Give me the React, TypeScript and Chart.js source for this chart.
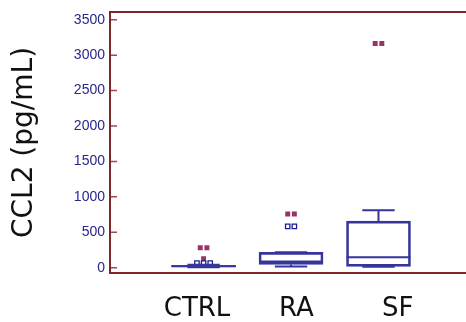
import React, { useEffect, useRef } from 'react';
import { Chart, registerables } from 'chart.js';

Chart.register(...registerables);

// ---- data ----
const categories = ['CTRL', 'RA', 'SF'];
const whiskerLow = [5, 18, 12];
const q1 = [12, 46, 18];
const median = [20, 88, 148];
const q3 = [32, 217, 657];
const whiskerHigh = [40, 217, 810];
const outliersNear = [[64, 64, 64], [583, 583], []];
const outliersFar = [[282, 282, 125], [758, 758], [3164, 3164]];
const yTicks = [0, 500, 1000, 1500, 2000, 2500, 3000, 3500];
const yTitle = 'CCL2 (pg/mL)';
const categoryLabelAt = [0.925, 2.06, 3.22];

// ---- style ----
const BOX = '#35359c';
const TICK_BLUE = '#26268f';
const FAR = '#993366';
const FRAME = '#7a2828';
const FRAME_TICK = '#a04848';
const SPREAD = 0.076;
const CAP_HALF = 0.185;

function spread(values: number[], center: number) {
  const counts = new Map<number, number>();
  values.forEach((v) => counts.set(v, (counts.get(v) || 0) + 1));
  const seen = new Map<number, number>();
  return values.map((v) => {
    const n = counts.get(v) || 1;
    const i = seen.get(v) || 0;
    seen.set(v, i + 1);
    return { x: center + (i - (n - 1) / 2) * SPREAD, y: v };
  });
}

const extrasPlugin = {
  id: 'boxExtras',
  afterDatasetsDraw(chart: any) {
    const { ctx } = chart;
    const xs = chart.scales.x;
    const ys = chart.scales.y;
    ctx.save();
    ctx.strokeStyle = BOX;
    ctx.lineWidth = 2;
    categories.forEach((_, i) => {
      const c = i + 1;
      const xl = xs.getPixelForValue(c - 0.366);
      const xr = xs.getPixelForValue(c + 0.366);
      const xc = xs.getPixelForValue(c);
      const cl = xs.getPixelForValue(c - CAP_HALF);
      const cr = xs.getPixelForValue(c + CAP_HALF);
      const ym = ys.getPixelForValue(median[i]);
      ctx.beginPath();
      ctx.moveTo(xl, ym);
      ctx.lineTo(xr, ym);
      const yq1 = ys.getPixelForValue(q1[i]);
      const yq3 = ys.getPixelForValue(q3[i]);
      const ylo = ys.getPixelForValue(whiskerLow[i]);
      const yhi = ys.getPixelForValue(whiskerHigh[i]);
      ctx.moveTo(xc, yq1);
      ctx.lineTo(xc, ylo);
      ctx.moveTo(cl, ylo);
      ctx.lineTo(cr, ylo);
      ctx.moveTo(xc, yq3);
      ctx.lineTo(xc, yhi);
      ctx.moveTo(cl, yhi);
      ctx.lineTo(cr, yhi);
      ctx.stroke();
    });
    ctx.restore();
  },
  afterDraw(chart: any) {
    const { ctx, chartArea, width } = chart;
    const ys = chart.scales.y;
    ctx.save();
    ctx.strokeStyle = FRAME_TICK;
    ctx.lineWidth = 1.5;
    ctx.beginPath();
    yTicks.forEach((v) => {
      const y = ys.getPixelForValue(v);
      ctx.moveTo(chartArea.left, y);
      ctx.lineTo(chartArea.left + 7, y);
    });
    ctx.stroke();
    ctx.strokeStyle = FRAME;
    ctx.lineWidth = 2;
    ctx.beginPath();
    ctx.moveTo(width, chartArea.top);
    ctx.lineTo(chartArea.left, chartArea.top);
    ctx.lineTo(chartArea.left, chartArea.bottom);
    ctx.lineTo(width, chartArea.bottom);
    ctx.stroke();
    ctx.restore();
  },
};

export default function App() {
  const ref = useRef<HTMLCanvasElement>(null);
  useEffect(() => {
    if (!ref.current) return;
    const nearPts = categories.flatMap((_, i) => spread(outliersNear[i], i + 1));
    const farPts = categories.flatMap((_, i) => spread(outliersFar[i], i + 1));
    const chart = new Chart(ref.current, {
      type: 'bar',
      data: {
        datasets: [
          {
            type: 'bar',
            data: categories.map((_, i) => ({ x: i + 1, y: [q1[i], q3[i]] })) as any,
            backgroundColor: 'rgba(0,0,0,0)',
            borderColor: BOX,
            borderWidth: 2,
            borderSkipped: false,
            barThickness: 64,
          } as any,
          {
            type: 'scatter',
            data: nearPts,
            pointStyle: 'rect',
            pointRadius: 3.1,
            pointBackgroundColor: '#ffffff',
            pointBorderColor: '#1c1c8c',
            pointBorderWidth: 1.3,
          } as any,
          {
            type: 'scatter',
            data: farPts,
            pointStyle: 'rect',
            pointRadius: 3.5,
            pointBackgroundColor: FAR,
            pointBorderColor: FAR,
            pointBorderWidth: 0,
          } as any,
        ],
      },
      options: {
        animation: false,
        responsive: false,
        events: [],
        layout: { padding: { top: 7, right: 0, left: 0, bottom: 0 } },
        plugins: { legend: { display: false }, tooltip: { enabled: false } },
        scales: {
          x: {
            type: 'linear',
            offset: false,
            min: -0.07,
            max: 3.94,
            grid: { display: false, drawTicks: false, offset: false },
            border: { display: false },
            afterBuildTicks: (scale: any) => {
              scale.ticks = categoryLabelAt.map((v) => ({ value: v }));
            },
            afterFit: (scale: any) => {
              scale.height = 49;
              scale.paddingLeft = 0;
              scale.paddingRight = 0;
            },
            ticks: {
              autoSkip: false,
              maxRotation: 0,
              padding: 23,
              color: '#111111',
              font: { family: 'DejaVu Sans', size: 26, lineHeight: 1 },
              callback: (_v: any, i: number) => categories[i],
            },
          },
          y: {
            type: 'linear',
            min: -75,
            max: 3610,
            grid: { display: false, drawTicks: false },
            border: { display: false },
            afterBuildTicks: (scale: any) => {
              scale.ticks = yTicks.map((v) => ({ value: v }));
            },
            afterFit: (scale: any) => {
              scale.width = 110;
            },
            ticks: {
              padding: 5,
              color: TICK_BLUE,
              font: { family: 'Liberation Sans', size: 14, lineHeight: 1 },
              callback: (v: any) => String(v),
            },
            title: {
              display: true,
              text: yTitle,
              color: '#111111',
              font: { family: 'DejaVu Sans', size: 28, lineHeight: 1.2 },
              padding: { top: 8, bottom: 0 },
            },
          },
        },
      },
      plugins: [extrasPlugin],
    } as any);
    return () => chart.destroy();
  }, []);
  return (
    <div style={{ position: 'fixed', left: 0, top: 0, width: 466, height: 322, background: '#fff' }}>
      <canvas ref={ref} width={466} height={322} />
    </div>
  );
}
